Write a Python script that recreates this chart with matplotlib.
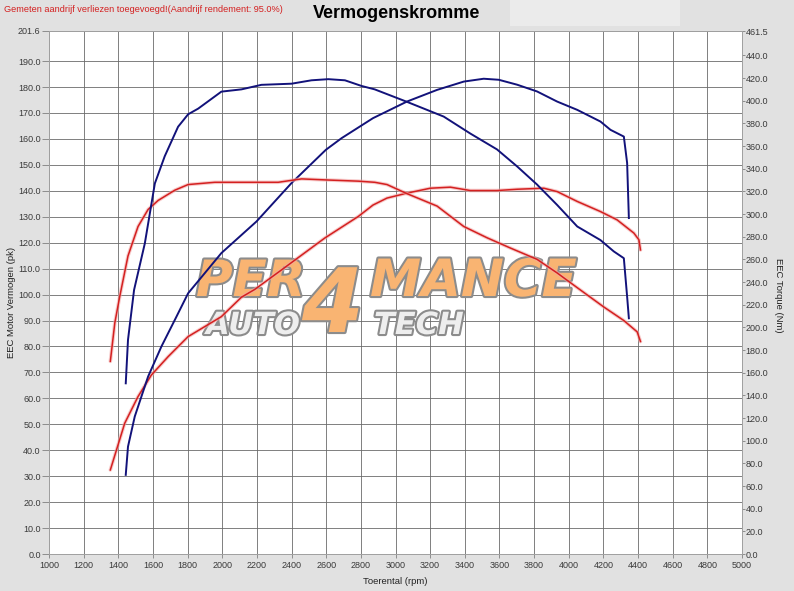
import matplotlib
matplotlib.use("Agg")
import matplotlib.pyplot as plt
import matplotlib.patheffects as pe
from matplotlib.patches import Rectangle

plt.rcParams['font.family'] = ['Liberation Sans', 'DejaVu Sans']

# ---------------- data ----------------
# Blue run: power (pk, left axis)
blue_power_rpm = [1443, 1456, 1495, 1572, 1649, 1726, 1803, 1995, 2198, 2400, 2598, 2689,
                  2870, 3066, 3240, 3394, 3509, 3596, 3702, 3817, 3933, 4049, 4183, 4241,
                  4318, 4337, 4347]
blue_power_pk = [30.5, 41.4, 53.0, 68.4, 80.0, 90.2, 100.5, 116.0, 128.2, 143.0, 155.8, 160.3,
                 168.0, 174.4, 178.9, 182.1, 183.2, 182.8, 180.9, 178.3, 174.4, 171.2, 166.7, 163.5,
                 160.9, 150.7, 129.5]
# Blue run: torque (Nm, right axis)
blue_torque_rpm = [1443, 1456, 1491, 1553, 1611, 1668, 1745, 1803, 1861, 1995, 2111, 2226,
                   2400, 2515, 2612, 2708, 2804, 2880, 3066, 3278, 3432, 3586, 3702, 3817,
                   3933, 4049, 4183, 4260, 4318, 4337, 4347]
blue_torque_nm = [150.6, 189, 233, 274, 327, 351, 377, 388, 393, 408, 410, 414,
                  415, 418, 419, 418, 413, 410, 399, 386, 371, 357, 342, 326,
                  308, 289, 277, 267, 261, 227, 208]
# Red run: power (pk, left axis)
red_power_rpm = [1354, 1437, 1514, 1591, 1688, 1803, 1995, 2111, 2188, 2342, 2592, 2785,
                 2870, 2951, 3066, 3201, 3317, 3432, 3586, 3702, 3856, 3933, 4049, 4183,
                 4279, 4376, 4405, 4414]
red_power_pk = [32.4, 50.4, 60.7, 69.0, 76.1, 83.8, 91.5, 99.0, 102.0, 109.5, 121.8, 130.1,
                134.5, 137.2, 139.1, 141.0, 141.4, 140.1, 140.1, 140.6, 141.0, 139.7, 135.9, 132.0,
                128.8, 123.7, 121.1, 117.2]
# Red run: torque (Nm, right axis)
red_torque_rpm = [1354, 1380, 1408, 1456, 1514, 1572, 1630, 1726, 1803, 1957, 2150, 2323,
                  2458, 2612, 2785, 2880, 2951, 3066, 3240, 3394, 3529, 3663, 3817, 3933,
                  4049, 4202, 4318, 4395, 4414]
red_torque_nm = [170, 204, 227, 263, 289, 304, 312, 321, 326, 328, 328, 328,
                 331, 330, 329, 328, 326, 318, 307, 289, 279, 270, 260, 248,
                 235, 218, 206, 196, 187.5]

x_ticks = list(range(1000, 5001, 200))
left_ticks = [float(v) for v in range(0, 191, 10)] + [201.6]
right_ticks = [float(v) for v in range(0, 441, 20)] + [461.5]

title = "Vermogenskromme"
note = "Gemeten aandrijf verliezen toegevoegd!(Aandrijf rendement: 95.0%)"
xlabel = "Toerental (rpm)"
ylabel_left = "EEC Motor Vermogen (pk)"
ylabel_right = "EEC Torque (Nm)"

# ---------------- figure ----------------
W, H = 794, 591
fig = plt.figure(figsize=(W / 100, H / 100), dpi=100, facecolor='#e1e1e1')

def fx(px):
    return px / W

def fy(py):
    return 1 - py / H

# lighter box at top right
fig.patches.append(Rectangle((fx(510), fy(26)), fx(680) - fx(510), fy(0) - fy(26),
                             transform=fig.transFigure, facecolor='#ebebeb',
                             edgecolor='none', zorder=0))

L, R, T, B = 49, 742, 31, 554
ax = fig.add_axes([fx(L), fy(B), fx(R) - fx(L), fy(T) - fy(B)])
ax.set_facecolor('white')
ax.set_xlim(1000, 5000)
ax.set_ylim(0, 201.6)
ax2 = ax.twinx()
ax2.set_ylim(0, 461.5)

tick_color = '#3a3a3a'
ax.set_xticks(x_ticks)
ax.set_xticklabels([str(v) for v in x_ticks])
ax.set_yticks(left_ticks)
ax.set_yticklabels(['%.1f' % v for v in left_ticks])
ax2.set_yticks(right_ticks)
ax2.set_yticklabels(['%.1f' % v for v in right_ticks])

ax.tick_params(axis='y', length=5, width=0.6, color='#808080', pad=1,
               labelsize=6.5, labelcolor=tick_color)
ax.tick_params(axis='x', length=3, width=0.6, color='#808080', pad=2,
               labelsize=6.5, labelcolor=tick_color)
ax2.tick_params(axis='y', length=2.2, width=0.6, color='#808080', pad=0.5,
                labelsize=6.5, labelcolor=tick_color)

ax.set_axisbelow(True)
ax.grid(True, color='#6a6a6a', linewidth=0.6)
for a in (ax, ax2):
    for s in a.spines.values():
        s.set_color('#a0a0a0')
        s.set_linewidth(0.6)

# watermark logo (approximation)
def to_data(px, py):
    return 1000 + (px - L) / (R - L) * 4000, (B - py) / (B - T) * 201.6

stroke = [pe.withStroke(linewidth=3, foreground='#8c8c8c')]
for txt, px, py, fs, col in [("PER", 196, 296, 36, '#f9b472'),
                             ("4", 302, 332, 64, '#f9b472'),
                             ("MANCE", 370, 296, 37, '#f9b472'),
                             ("AUTO", 206, 334, 22, '#eeeeee'),
                             ("TECH", 374, 334, 22, '#eeeeee')]:
    dx, dy = to_data(px, py)
    ax.text(dx, dy, txt, fontsize=fs, fontweight='bold', fontstyle='italic',
            family='DejaVu Sans', color=col, ha='left', va='baseline',
            path_effects=stroke, zorder=1)

blue = '#12127a'
red = '#d42020'
glow = '#f2a8a8'

ax.plot(red_power_rpm, red_power_pk, color=glow, lw=2.6, alpha=0.6, zorder=3,
        solid_capstyle='round')
ax.plot(red_power_rpm, red_power_pk, color=red, lw=1.1, zorder=4)
ax.plot(blue_power_rpm, blue_power_pk, color=blue, lw=1.4, zorder=4)
ax2.plot(red_torque_rpm, red_torque_nm, color=glow, lw=2.6, alpha=0.6, zorder=3,
         solid_capstyle='round')
ax2.plot(red_torque_rpm, red_torque_nm, color=red, lw=1.1, zorder=4)
ax2.plot(blue_torque_rpm, blue_torque_nm, color=blue, lw=1.4, zorder=4)

# texts
fig.text(fx(397), fy(13), title, fontsize=13, fontweight='bold', ha='center',
         va='center', color='black')
fig.text(fx(4), fy(9), note, fontsize=6.6, color='#d42020', ha='left', va='center')
fig.text(fx(395), fy(582), xlabel, fontsize=6.8, color='#222222', ha='center', va='center')
fig.text(fx(12), fy(302), ylabel_left, fontsize=6.8, color='#222222', ha='center',
         va='center', rotation=90)
fig.text(fx(778), fy(295), ylabel_right, fontsize=6.8, color='#222222', ha='center',
         va='center', rotation=270)

fig.savefig('out.png', dpi=100, facecolor=fig.get_facecolor())
